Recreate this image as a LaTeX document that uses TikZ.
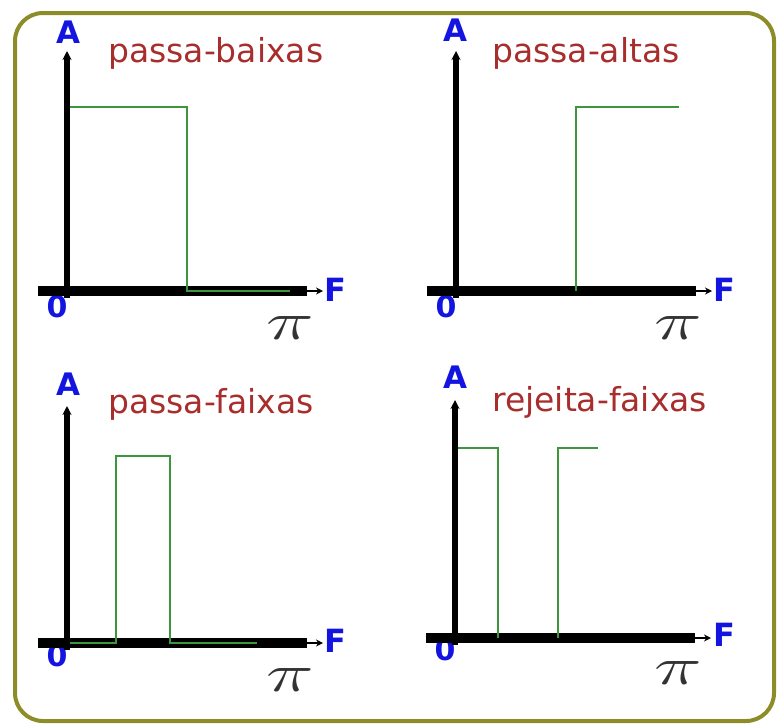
\documentclass[tikz,border=0pt]{standalone}
\usepackage{fontspec}
\newfontfamily\dvs{DejaVu Sans}
\usetikzlibrary{arrows.meta}
\definecolor{olivebd}{RGB}{140,140,40}
\definecolor{ttl}{RGB}{168,45,45}
\definecolor{lblue}{RGB}{20,20,225}
\definecolor{sig}{RGB}{60,150,60}
\begin{document}
\begin{tikzpicture}[x=1pt,y=-1pt,
 title/.style={font=\dvs\fontsize{33}{33}\selectfont, text=ttl, anchor=base west, inner sep=0},
 albl/.style={font=\dvs\bfseries\fontsize{31}{31}\selectfont, text=lblue, inner sep=0, anchor=base},
 flbl/.style={font=\dvs\bfseries\fontsize{32}{32}\selectfont, text=lblue, inner sep=0, anchor=west},
 zlbl/.style={font=\dvs\bfseries\fontsize{30}{30}\selectfont, text=lblue, inner sep=0, anchor=base},
 pilbl/.style={font=\Large, text=black!80, inner sep=0, xscale=5.6, yscale=3.7},
 haxis/.style={line width=10pt, black},
 vaxis/.style={line width=6pt, black, -{Stealth[length=9pt,width=9pt]}},
 harrow/.style={line width=2.5pt, black, -{Stealth[length=7pt,width=7pt]}},
 signal/.style={sig, line width=2pt}]
\useasboundingbox (0,0) rectangle (778,726);
\draw[olivebd, line width=4pt, rounded corners=28pt] (15,13) rectangle (774,721);

% ---------- panel 1: passa-baixas ----------
\begin{scope}[shift={(67,291)}]
 \node[zlbl] (z1) at (-10,26) {0};
 \coordinate (l1) at (-29,0); \coordinate (r1) at (240,0); \coordinate (e1) at (256,0);
 \coordinate (b1) at (0,7); \coordinate (t1) at (0,-240);
 \draw[haxis] (l1) -- (r1);
 \draw[vaxis] (b1) -- (t1);
 \draw[harrow] (r1) -- (e1);
 \node[flbl] (F1) at (257,-1) {F};
 \node[albl] (A1) at (1,-248) {A};
 \node[title] (T1) at (41,-229) {passa-baixas};
 \node[pilbl] (P1) at (223,37) {$\pi$};
 \draw[signal] (3,-184) -- (120,-184) -- (120,0) -- (223,0);
\end{scope}

% ---------- panel 2: passa-altas ----------
\begin{scope}[shift={(456,291)}]
 \node[zlbl] (z2) at (-10,26) {0};
 \coordinate (l2) at (-29,0); \coordinate (r2) at (240,0); \coordinate (e2) at (256,0);
 \coordinate (b2) at (0,7); \coordinate (t2) at (0,-240);
 \draw[haxis] (l2) -- (r2);
 \draw[vaxis] (b2) -- (t2);
 \draw[harrow] (r2) -- (e2);
 \node[flbl] (F2) at (257,-1) {F};
 \node[albl] (A2) at (-1,-250) {A};
 \node[title] (T2) at (36,-229) {passa-altas};
 \node[pilbl] (P2) at (222,37) {$\pi$};
 \draw[signal] (120,0) -- (120,-184) -- (223,-184);
\end{scope}

% ---------- panel 3: passa-faixas ----------
\begin{scope}[shift={(67,643)}]
 \node[zlbl] (z3) at (-10,23) {0};
 \coordinate (l3) at (-29,0); \coordinate (r3) at (240,0); \coordinate (e3) at (256,0);
 \coordinate (b3) at (0,7); \coordinate (t3) at (0,-237);
 \draw[haxis] (l3) -- (r3);
 \draw[vaxis] (b3) -- (t3);
 \draw[harrow] (r3) -- (e3);
 \node[flbl] (F3) at (257,-2) {F};
 \node[albl] (A3) at (1,-248) {A};
 \node[title] (T3) at (41,-230) {passa-faixas};
 \node[pilbl] (P3) at (223,37) {$\pi$};
 \draw[signal] (3,0) -- (49,0) -- (49,-187) -- (103,-187) -- (103,0) -- (190,0);
\end{scope}

% ---------- panel 4: rejeita-faixas ----------
\begin{scope}[shift={(455,638)}]
 \node[zlbl] (z4) at (-10,22) {0};
 \coordinate (l4) at (-29,0); \coordinate (r4) at (240,0); \coordinate (e4) at (256,0);
 \coordinate (b4) at (0,7); \coordinate (t4) at (0,-238);
 \draw[haxis] (l4) -- (r4);
 \draw[vaxis] (b4) -- (t4);
 \draw[harrow] (r4) -- (e4);
 \node[flbl] (F4) at (258,-3) {F};
 \node[albl] (A4) at (0,-250) {A};
 \node[title] (T4) at (37,-227) {rejeita-faixas};
 \node[pilbl] (P4) at (223,35) {$\pi$};
 \draw[signal] (3,-190) -- (43,-190) -- (43,0);
 \draw[signal] (103,0) -- (103,-190) -- (143,-190);
\end{scope}
\end{tikzpicture}
\end{document}
